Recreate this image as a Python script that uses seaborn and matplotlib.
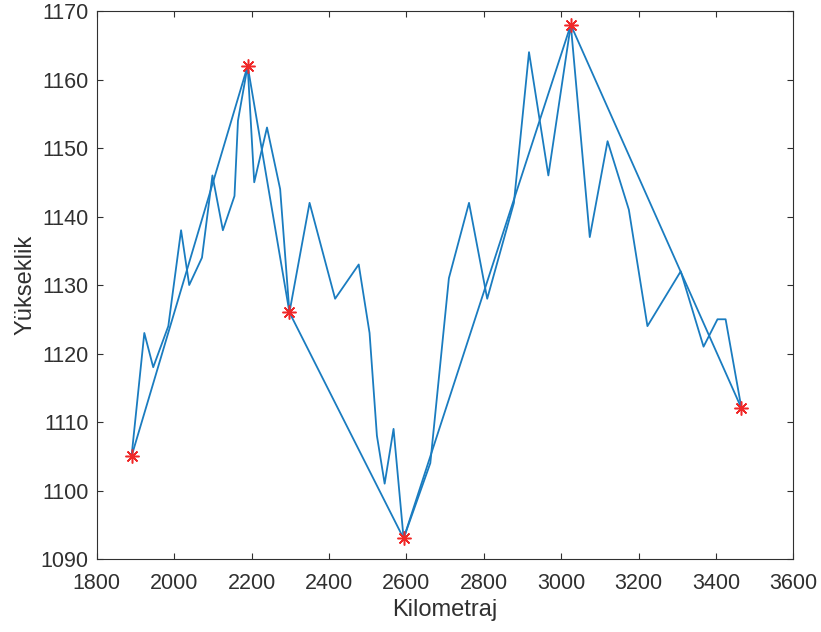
import seaborn as sns
import matplotlib.pyplot as plt
import pandas as pd

# profile data (km, elevation)
km = [1890, 1923, 1946, 1985, 2018, 2039, 2072, 2099, 2126, 2156, 2165, 2190,
      2207, 2240, 2274, 2298, 2350, 2416, 2477, 2505, 2524, 2544, 2567, 2593,
      2662, 2710, 2762, 2809, 2878, 2917, 2967, 3025, 3074, 3120, 3175, 3223,
      3309, 3368, 3404, 3425, 3466]
elev = [1105, 1123, 1118, 1124, 1138, 1130, 1134, 1146, 1138, 1143, 1154, 1162,
        1145, 1153, 1144, 1126, 1142, 1128, 1133, 1123, 1108, 1101, 1109, 1093,
        1104, 1131, 1142, 1128, 1142, 1164, 1146, 1168, 1137, 1151, 1141, 1124,
        1132, 1121, 1125, 1125, 1112]

# selected key points
key_km = [1890, 2190, 2298, 2593, 3025, 3466]
key_elev = [1105, 1162, 1126, 1093, 1168, 1112]

xticks = list(range(1800, 3601, 200))
yticks = list(range(1090, 1171, 10))

sns.set_style("ticks")
plt.rcParams['font.family'] = ['Liberation Sans', 'DejaVu Sans']

profile = pd.DataFrame({"km": km, "elev": elev})
keys = pd.DataFrame({"km": key_km, "elev": key_elev})

fig = plt.figure(figsize=(8.21, 6.32), dpi=100)
ax = fig.add_axes([0.1178, 0.1155, 0.8485, 0.867])

blue = "#1a7cc0"
sns.lineplot(data=profile, x="km", y="elev", ax=ax, color=blue, lw=1.3,
             estimator=None, sort=False)
sns.lineplot(data=keys, x="km", y="elev", ax=ax, color=blue, lw=1.3,
             estimator=None, sort=False)
ax.plot(keys["km"], keys["elev"], ls="none", marker=(8, 2, 0), ms=10,
        mec="#f02828", mew=1.1, zorder=5)

ax.set_xlim(1800, 3600)
ax.set_ylim(1090, 1170)
ax.set_xticks(xticks)
ax.set_yticks(yticks)
ax.tick_params(direction="in", length=4.5, width=0.8, top=True, right=True,
               labelsize=15.5, colors="#303030", pad=10)
ax.tick_params(axis="y", pad=6)
for s in ax.spines.values():
    s.set_visible(True)
    s.set_color("#303030")
    s.set_linewidth(0.8)

ax.set_xlabel("Kilometraj", fontsize=17, color="#303030", labelpad=4)
ax.set_ylabel("Yükseklik", fontsize=17, color="#303030", labelpad=3)

fig.savefig("out.png", dpi=100, facecolor="white")
